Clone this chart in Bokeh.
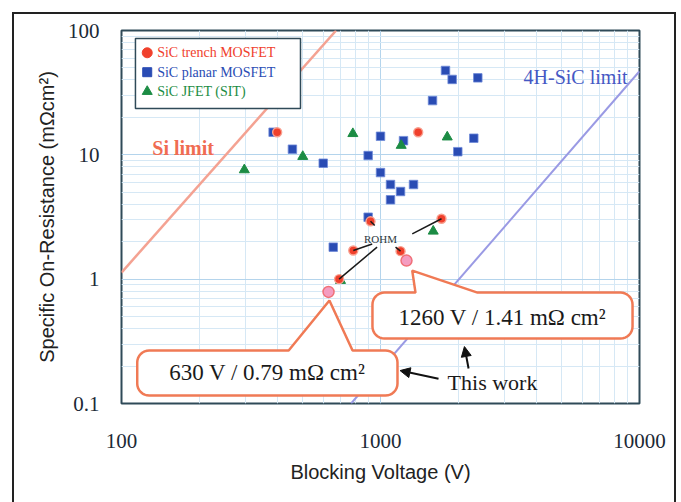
import numpy as np
from bokeh.plotting import figure
from bokeh.layouts import column
from bokeh.models import (Range1d, FixedTicker, CustomJSTickFormatter, Label,
                          Arrow, NormalHead)
from bokeh.embed import file_html
from bokeh.resources import INLINE

# ---------------- data ----------------
trench_v = [399, 1398, 915, 1720, 785, 1195, 692]
trench_r = [15.2, 15.2, 2.92, 3.06, 1.70, 1.68, 1.00]

planar_v = [1782, 1891, 2375, 1588, 385, 1000, 1227, 2292, 457, 1988,
            896, 601, 1000, 1093, 1341, 1195, 1093, 896, 657]
planar_r = [47.7, 40.4, 41.6, 27.3, 15.2, 14.1, 13.0, 13.6, 11.1, 10.6,
            9.87, 8.56, 7.2, 5.77, 5.77, 5.07, 4.35, 3.15, 1.81]

jfet_v = [298, 501, 782, 1202, 1810, 1598, 701]
jfet_r = [7.57, 9.69, 14.8, 11.9, 13.9, 2.43, 0.975]

this_v = [630, 1260]
this_r = [0.79, 1.41]

si_limit_v = [100, 674]
si_limit_r = [1.13, 100]
sic_limit_v = [770, 10000]
sic_limit_r = [0.1, 47]

# ROHM annotation: label anchor and leader lines (data units)
rohm_v, rohm_r = 1000, 2.12
rohm_x0 = [950, 1326, 929, 1143, 970]
rohm_y0 = [2.70, 2.31, 1.92, 1.81, 1.81]
rohm_x1 = [915, 1720, 785, 1195, 692]
rohm_y1 = [2.92, 3.06, 1.70, 1.68, 1.00]

x_major = [100, 1000, 10000]
y_major = [0.1, 1, 10, 100]
x_minor = [m * 10 ** k for k in (2, 3) for m in range(2, 10)]
y_minor = [m * 10 ** k for k in (-1, 0, 1) for m in range(2, 10)]

legend_labels = ["SiC trench MOSFET", "SiC planar MOSFET", "SiC JFET (SIT)"]

# ---------------- styling ----------------
RED = "#f0402c"
BLUE = "#2a4cb4"
GREEN = "#1c8c44"
FRAME = "#2f4a58"
CALLOUT = "#f07a55"
SERIF = "Liberation Serif"
SANS = "Liberation Sans"

p = figure(width=660, height=488, x_axis_type="log", y_axis_type="log",
           x_range=Range1d(100, 10000), y_range=Range1d(0.1, 100),
           output_backend="svg", toolbar_location=None,
           min_border_left=107, min_border_right=35,
           min_border_top=16, min_border_bottom=99)
p.background_fill_color = "white"
p.border_fill_color = "white"
p.outline_line_color = FRAME
p.outline_line_width = 2

fmt = CustomJSTickFormatter(code="return tick.toString()")
p.xaxis.ticker = FixedTicker(ticks=x_major, minor_ticks=x_minor)
p.yaxis.ticker = FixedTicker(ticks=y_major, minor_ticks=y_minor)
for ax in (p.xaxis, p.yaxis):
    ax.formatter = fmt
    ax.axis_line_color = None
    ax.major_tick_line_color = None
    ax.minor_tick_line_color = None
    ax.major_label_text_font = SERIF
    ax.major_label_text_font_size = "21px"
    ax.major_label_text_color = "#1c2a36"
    ax.axis_label_text_font = SANS
    ax.axis_label_text_font_style = "normal"
    ax.axis_label_text_color = "#222222"
p.xaxis.major_label_standoff = 24
p.yaxis.major_label_standoff = 16
p.xaxis.axis_label = "Blocking Voltage (V)"
p.xaxis.axis_label_text_font_size = "20px"
p.xaxis.axis_label_standoff = 10
p.yaxis.axis_label = "Specific On-Resistance (mΩcm²)"
p.yaxis.axis_label_text_font_size = "20px"
p.yaxis.axis_label_standoff = 7

for g in (p.xgrid, p.ygrid):
    g.grid_line_color = "#b4d4ec"
    g.grid_line_width = 1
    g.minor_grid_line_color = "#d6e8f5"
    g.minor_grid_line_width = 1

# limit lines
p.line(si_limit_v, si_limit_r, line_color="#f4a292", line_width=2.5)
p.line(sic_limit_v, sic_limit_r, line_color="#9a9ae4", line_width=2)

# data points
p.scatter(planar_v, planar_r, marker="square", size=8.5, fill_color=BLUE,
          line_color="#6f8ad8", line_width=0.8)
p.scatter(jfet_v, jfet_r, marker="triangle", size=10, fill_color=GREEN,
          line_color=GREEN)
p.scatter(trench_v, trench_r, marker="circle", size=9, fill_color=RED,
          line_color="#f8a090", line_width=1.4)

# ROHM leaders
p.segment(rohm_x0, rohm_y0, rohm_x1, rohm_y1, line_color="#1a1a1a", line_width=1.5)
p.add_layout(Label(x=rohm_v, y=rohm_r, text="ROHM", text_align="center",
                   text_baseline="middle", text_font=SERIF,
                   text_font_size="11px", text_color="#303840"))

p.scatter(this_v, this_r, marker="circle", size=11, fill_color="#f49cc0",
          line_color="#f07078", line_width=1.5)

# ---------------- callouts ----------------
SX = 518 / 2.0   # px per decade (x)
SY = 373 / 3.0   # px per decade (y)


def callout(v0, v1, r0, r1, va, ra, vb0, vb1, rad=12):
    L, Rr = np.log10(v0) * SX, np.log10(v1) * SX
    B, T = np.log10(r0) * SY, np.log10(r1) * SY
    ax_, ay_ = np.log10(va) * SX, np.log10(ra) * SY
    b0, b1 = np.log10(vb0) * SX, np.log10(vb1) * SX
    pts = [(b0, T), (ax_, ay_), (b1, T)]

    def arc(cx, cy, a0, a1):
        for t in np.linspace(a0, a1, 9):
            pts.append((cx + rad * np.cos(t), cy + rad * np.sin(t)))
    arc(Rr - rad, T - rad, np.pi / 2, 0)
    arc(Rr - rad, B + rad, 0, -np.pi / 2)
    arc(L + rad, B + rad, -np.pi / 2, -np.pi)
    arc(L + rad, T - rad, np.pi, np.pi / 2)
    pts.append((b0, T))
    xs = [10 ** (u / SX) for u, _ in pts]
    ys = [10 ** (w / SY) for _, w in pts]
    return xs, ys


c1 = callout(931, 9400, 0.333, 0.78, 1326, 1.17, 1365, 2369)
c2 = callout(115, 1163, 0.1158, 0.267, 635, 0.673, 442, 780)
for xs, ys in (c1, c2):
    p.patch(xs, ys, fill_color="white", line_color=CALLOUT, line_width=2.5)

p.add_layout(Label(x=2958, y=0.491, text="1260 V / 1.41 mΩ cm²",
                   text_align="center", text_baseline="middle",
                   text_font=SERIF, text_font_size="23px", text_color="#1a1a1a"))
p.add_layout(Label(x=366, y=0.177, text="630 V / 0.79 mΩ cm²",
                   text_align="center", text_baseline="middle",
                   text_font=SERIF, text_font_size="23px", text_color="#1a1a1a"))
p.add_layout(Label(x=2707, y=0.147, text="This work",
                   text_align="center", text_baseline="middle",
                   text_font=SERIF, text_font_size="22px", text_color="#1a1a1a"))
p.add_layout(Arrow(end=NormalHead(size=10, fill_color="#111111", line_color="#111111"),
                   x_start=1675, y_start=0.158, x_end=1190, y_end=0.184,
                   line_width=2, line_color="#111111"))
p.add_layout(Arrow(end=NormalHead(size=10, fill_color="#111111", line_color="#111111"),
                   x_start=2188, y_start=0.191, x_end=2109, y_end=0.287,
                   line_width=2, line_color="#111111"))

# limit labels
p.add_layout(Label(x=173, y=11.4, text="Si limit", text_align="center",
                   text_baseline="middle", text_font=SERIF,
                   text_font_size="20px", text_font_style="bold",
                   text_color="#f06c52"))
p.add_layout(Label(x=5663, y=41.9, text="4H-SiC limit", text_align="center",
                   text_baseline="middle", text_font=SERIF,
                   text_font_size="20px", text_color="#4558c4"))

# ---------------- legend (drawn manually for coloured labels) ----------------
p.quad(left=[113.2], right=[491], bottom=[23.6], top=[86.2],
       fill_color="white", line_color=FRAME, line_width=1.5)
leg_y = [66.2, 46.2, 32.3]
p.scatter([125.7], [leg_y[0]], marker="circle", size=10, fill_color=RED, line_color=RED)
p.scatter([125.7], [leg_y[1]], marker="square", size=9, fill_color=BLUE, line_color=BLUE)
p.scatter([125.7], [leg_y[2]], marker="triangle", size=10, fill_color=GREEN, line_color=GREEN)
for lab, yy, col in zip(legend_labels, leg_y, [RED, BLUE, GREEN]):
    p.add_layout(Label(x=137.3, y=yy, text=lab, text_align="left",
                       text_baseline="middle", text_font=SERIF,
                       text_font_size="14px", text_color=col))

# outer picture frame: a bordered container around the figure
layout = column(p, margin=(12, 0, 0, 12),
                styles={"border-left": "2px solid #222222",
                        "border-right": "2px solid #222222",
                        "border-top": "2px solid #222222",
                        "background-color": "white"})

open("out.html", "w").write(file_html(layout, INLINE))
